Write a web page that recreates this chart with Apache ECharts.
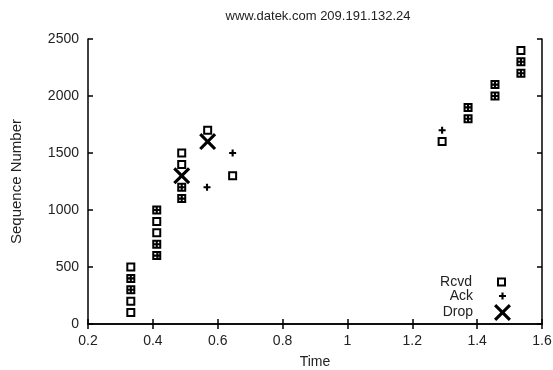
<!DOCTYPE html>
<html>
<head>
<meta charset="utf-8">
<script src="https://cdn.jsdelivr.net/npm/echarts@6/dist/echarts.min.js"></script>
<style>html,body{margin:0;padding:0;background:#fff;}#c{width:553px;height:370px;}</style>
</head>
<body>
<div id="c"></div>
<script>
var title = 'www.datek.com 209.191.132.24';
var xTicks = [0.2, 0.4, 0.6, 0.8, 1, 1.2, 1.4, 1.6];
var yTicks = [0, 500, 1000, 1500, 2000, 2500];
var rcvdX = [0.332,0.332,0.332,0.332,0.332,0.412,0.412,0.412,0.412,0.412,0.489,0.489,0.489,0.489,0.569,0.646,1.292,1.372,1.372,1.455,1.455,1.535,1.535,1.535];
var rcvdY = [100,200,300,400,500,600,700,800,900,1000,1100,1200,1400,1500,1700,1300,1600,1800,1900,2000,2100,2200,2300,2400];
var ackX = [0.332,0.332,0.414,0.412,0.412,0.489,0.489,0.567,0.646,1.292,1.372,1.372,1.455,1.455,1.535,1.535];
var ackY = [300,400,600,700,1000,1100,1200,1200,1500,1700,1800,1900,2000,2100,2200,2300];
var dropX = [0.489, 0.569];
var dropY = [1300, 1600];

function pairs(xs, ys){ return xs.map(function(x,i){ return [x, ys[i]]; }); }

var font = 'Liberation Sans, Arial, sans-serif';
var txt = '#222';
var plusPath = 'path://M3.5,0H6.5V3.5H10V6.5H6.5V10H3.5V6.5H0V3.5H3.5Z';
var xPath = 'path://M0,1.3L1.3,0L5,3.7L8.7,0L10,1.3L6.3,5L10,8.7L8.7,10L5,6.3L1.3,10L0,8.7L3.7,5Z';

function legendItem(name, top, right, w, h, padR){
  return {
    orient: 'vertical', right: right, top: top, align: 'right', padding: 0,
    itemWidth: w, itemHeight: h, itemGap: 0,
    textStyle: {fontFamily: font, fontSize: 14, color: txt, padding: [0, padR, 0, 0]},
    data: [{name: name}]
  };
}

var chart = echarts.init(document.getElementById('c'), null, {renderer:'canvas'});
chart.setOption({
  animation: false,
  backgroundColor: '#fff',
  title: {text: title, left: 313, textAlign: 'center', top: 5,
    textStyle: {fontFamily: font, fontSize: 13, fontWeight: 'normal', color: txt}},
  grid: {left: 88, right: 11, top: 39, bottom: 46, containLabel: false, outerBoundsMode: 'none'},
  legend: [
    legendItem('Rcvd', 275, 47, 7, 7, 21),
    legendItem('Ack', 289, 47, 7, 7, 21),
    legendItem('Drop', 304, 42, 17, 17, 16)
  ],
  xAxis: [{
    type: 'value', min: 0.2, max: 1.6, interval: 0.2,
    name: 'Time', nameLocation: 'middle', nameGap: 31,
    nameTextStyle: {fontFamily: font, fontSize: 14, color: txt},
    axisLine: {lineStyle: {color: '#000', width: 1.5}},
    axisTick: {inside: true, length: 5, lineStyle: {color: '#000', width: 1.5}},
    axisLabel: {fontFamily: font, fontSize: 14, color: txt, margin: 10,
      formatter: function(v){ return String(Math.round(v*10)/10); }},
    splitLine: {show: false}
  }, {
    type: 'value', position: 'top', min: 0.2, max: 1.6, interval: 0.2,
    axisLine: {show: true, lineStyle: {color: '#000', width: 1.5}},
    axisTick: {inside: true, length: 5, lineStyle: {color: '#000', width: 1.5}},
    axisLabel: {show: false}, splitLine: {show: false}
  }],
  yAxis: [{
    type: 'value', min: 0, max: 2500, interval: 500,
    name: 'Sequence Number', nameLocation: 'middle', nameGap: 64, nameRotate: 90,
    nameTextStyle: {fontFamily: font, fontSize: 15, color: txt},
    axisLine: {show: true, lineStyle: {color: '#000', width: 1.5}},
    axisTick: {show: true, inside: true, length: 5, lineStyle: {color: '#000', width: 1.5}},
    axisLabel: {fontFamily: font, fontSize: 14, color: txt, margin: 9,
      formatter: function(v){ return String(v); }},
    splitLine: {show: false}
  }, {
    type: 'value', position: 'right', min: 0, max: 2500, interval: 500,
    axisLine: {show: true, lineStyle: {color: '#000', width: 1.5}},
    axisTick: {show: true, inside: true, length: 5, lineStyle: {color: '#000', width: 1.5}},
    axisLabel: {show: false}, splitLine: {show: false}
  }],
  series: [{
    name: 'Rcvd', type: 'scatter', symbol: 'rect', symbolSize: 7,
    itemStyle: {color: '#fff', borderColor: '#000', borderWidth: 2, opacity: 1},
    data: pairs(rcvdX, rcvdY), z: 3
  }, {
    name: 'Ack', type: 'scatter', symbol: plusPath, symbolSize: 7,
    itemStyle: {color: '#000', opacity: 1},
    data: pairs(ackX, ackY), z: 4
  }, {
    name: 'Drop', type: 'scatter', symbol: xPath, symbolSize: 17,
    itemStyle: {color: '#000', opacity: 1},
    data: pairs(dropX, dropY), z: 5
  }]
});
</script>
</body>
</html>
